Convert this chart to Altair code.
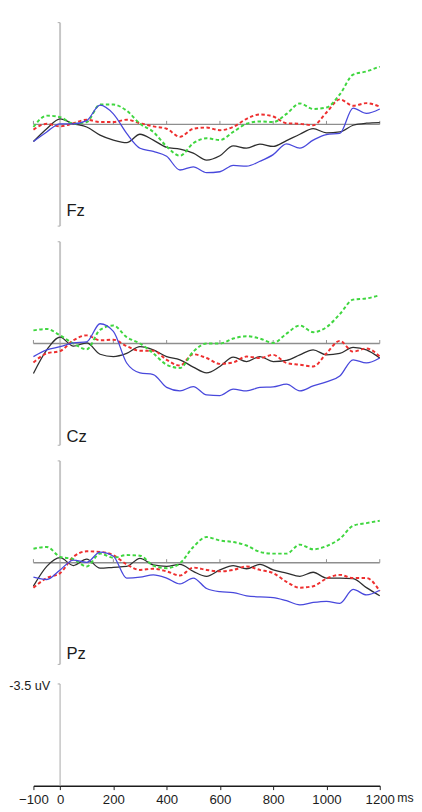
import altair as alt
import pandas as pd

# ---------------- data (uV, negative plotted upward) ----------------
TIMES = [-100, -50, 0, 50, 100, 150, 200, 250, 300, 350, 400, 450, 500, 550,
         600, 650, 700, 750, 800, 850, 900, 950, 1000, 1050, 1100, 1150, 1200]

FZ_BLACK = [0.59, 0.15, -0.19, -0.02, 0.09, 0.37, 0.54, 0.63, 0.34, 0.54, 0.79, 0.85, 0.99, 1.23,
            1.08, 0.74, 0.82, 0.68, 0.76, 0.56, 0.34, 0.15, 0.29, 0.26, 0.03, -0.04, -0.06]
FZ_BLUE = [0.59, 0.26, -0.02, -0.02, -0.13, -0.66, -0.36, 0.31, 0.82, 0.93, 1.10, 1.57, 1.46, 1.66,
           1.63, 1.41, 1.44, 1.27, 1.04, 0.67, 0.82, 0.54, 0.35, 0.31, -0.56, -0.38, -0.53]
FZ_RED = [0.18, -0.02, 0.07, -0.04, -0.16, -0.08, -0.08, -0.16, -0.04, 0.07, 0.15, 0.43, 0.15, 0.11,
          0.20, 0.09, -0.19, -0.34, -0.27, -0.04, -0.02, 0.03, -0.41, -0.86, -0.64, -0.73, -0.61]
FZ_GREEN = [0.09, -0.30, -0.25, -0.02, -0.08, -0.68, -0.68, -0.47, -0.02, 0.26, 0.76, 1.08, 0.65, 0.48,
            0.54, 0.26, -0.02, -0.10, -0.08, -0.36, -0.72, -0.53, -0.58, -1.03, -1.71, -1.82, -1.99]

CZ_BLACK = [1.03, 0.22, -0.22, 0.09, -0.02, 0.37, 0.45, 0.34, 0.11, 0.22, 0.45, 0.56, 0.81, 1.01,
            0.79, 0.47, 0.62, 0.45, 0.62, 0.58, 0.39, 0.22, 0.39, 0.34, 0.13, 0.22, 0.50]
CZ_BLUE = [0.45, 0.22, 0.11, -0.02, -0.06, -0.68, -0.42, 0.67, 1.01, 1.07, 1.51, 1.63, 1.48, 1.77,
           1.79, 1.57, 1.63, 1.51, 1.49, 1.40, 1.63, 1.46, 1.32, 1.12, 0.56, 0.67, 0.50]
CZ_RED = [0.65, 0.34, 0.26, -0.11, -0.28, -0.11, -0.13, 0.09, 0.25, 0.25, 0.56, 0.76, 0.37, 0.50,
          0.70, 0.65, 0.45, 0.50, 0.39, 0.67, 0.73, 0.79, 0.34, -0.09, 0.28, 0.17, 0.45]
CZ_GREEN = [-0.45, -0.50, -0.28, 0.00, 0.20, -0.47, -0.62, -0.22, 0.00, 0.34, 0.73, 0.84, 0.28, 0.00,
            0.00, -0.17, -0.25, -0.17, -0.02, -0.34, -0.62, -0.39, -0.56, -1.01, -1.51, -1.55, -1.66]

PZ_BLACK = [0.81, 0.13, -0.17, 0.10, -0.12, 0.19, 0.16, 0.13, -0.15, 0.08, 0.13, 0.06, 0.30, 0.47,
            0.25, 0.10, 0.21, 0.06, 0.25, 0.36, 0.47, 0.33, 0.53, 0.53, 0.55, 0.86, 1.14]
PZ_BLUE = [0.50, 0.58, 0.25, -0.09, -0.01, -0.36, -0.22, 0.53, 0.50, 0.42, 0.53, 0.73, 0.53, 0.89,
           1.00, 1.03, 1.14, 1.18, 1.20, 1.31, 1.45, 1.37, 1.33, 1.40, 0.92, 1.11, 0.95]
PZ_RED = [0.86, 0.53, 0.36, -0.20, -0.39, -0.37, -0.26, 0.06, 0.25, 0.21, 0.30, 0.44, 0.17, 0.25,
          0.30, 0.25, 0.13, 0.25, 0.36, 0.66, 0.86, 0.81, 0.55, 0.42, 0.53, 0.53, 0.98]
PZ_GREEN = [-0.48, -0.54, -0.20, -0.12, 0.13, -0.31, -0.17, -0.26, -0.24, 0.10, 0.19, 0.02, -0.54, -0.88,
            -0.76, -0.71, -0.59, -0.37, -0.31, -0.31, -0.62, -0.46, -0.57, -0.82, -1.27, -1.36, -1.44]

ELECTRODES = ["Fz", "Cz", "Pz"]
LABEL_POS = [3.15, 3.40, 3.30]
SERIES = {
    "Fz": [FZ_BLACK, FZ_RED, FZ_GREEN, FZ_BLUE],
    "Cz": [CZ_BLACK, CZ_RED, CZ_GREEN, CZ_BLUE],
    "Pz": [PZ_BLACK, PZ_RED, PZ_GREEN, PZ_BLUE],
}
COLORS = ["#2e2e2e", "#ee2f2f", "#3fd63f", "#4848dc"]
DASHED = [False, True, True, False]
WIDTHS = [1.3, 2.0, 2.0, 1.3]

BASE_TICKS = [-100, 200, 400, 600, 800, 1000, 1200]
AXIS_TICKS = [-100, 0, 200, 400, 600, 800, 1000, 1200]
RANGE_UV = 3.5
SCALE_LABEL = "-3.5 uV"
UNIT_LABEL = "ms"

FONT = "Liberation Sans"
W = 354
H = 208

X_SCALE = alt.Scale(domain=[-100, 1200], nice=False, zero=False)


def eeg_panel(name, series, label_v):
    ys = alt.Scale(domain=[-RANGE_UV, RANGE_UV], reverse=True, nice=False, zero=False)
    X = alt.X("t:Q", scale=X_SCALE, axis=None)
    Y = alt.Y("v:Q", scale=ys, axis=None)

    vline = alt.Chart(pd.DataFrame({"t": [0], "v": [-RANGE_UV], "v2": [RANGE_UV]})).mark_rule(
        color="#c6c6c6", strokeWidth=2).encode(x=X, y=Y, y2="v2:Q")
    endticks = alt.Chart(pd.DataFrame({"t": [-9, -9], "t2": [0, 0], "v": [-RANGE_UV, RANGE_UV]})).mark_rule(
        color="#b0b0b0", strokeWidth=1).encode(x=X, x2="t2:Q", y=Y)
    base = alt.Chart(pd.DataFrame({"t": [-100], "t2": [1200], "v": [0.0]})).mark_rule(
        color="#8e8e8e", strokeWidth=1.5).encode(x=X, x2="t2:Q", y=Y)
    n = len(BASE_TICKS)
    ticks = alt.Chart(pd.DataFrame({"t": BASE_TICKS, "v": [0.0] * n, "v2": [-0.12] * n})).mark_rule(
        color="#8e8e8e", strokeWidth=1).encode(x=X, y=Y, y2="v2:Q")

    lines = []
    for vals, col, dash, sw in zip(series, COLORS, DASHED, WIDTHS):
        kw = dict(color=col, strokeWidth=sw, interpolate="monotone")
        if dash:
            kw["strokeDash"] = [3.5, 2.5]
        lines.append(alt.Chart(pd.DataFrame({"t": TIMES, "v": vals})).mark_line(**kw).encode(x=X, y=Y))

    label = alt.Chart(pd.DataFrame({"t": [0], "v": [label_v], "lab": [name]})).mark_text(
        align="left", baseline="alphabetic", dx=6.5, fontSize=17, font=FONT, color="#1c1c1c"
    ).encode(x=X, y=Y, text="lab:N")

    return alt.layer(vline, endticks, base, ticks, *lines, label).properties(width=W, height=H)


panels = [eeg_panel(e, SERIES[e], lp) for e, lp in zip(ELECTRODES, LABEL_POS)]

# ---------------- scale / time-axis panel ----------------
SH = 108
ys2 = alt.Scale(domain=[-RANGE_UV * SH / 104, 0], reverse=True, nice=False, zero=False)
X2 = alt.X("t:Q", scale=X_SCALE,
           axis=alt.Axis(values=AXIS_TICKS, format="d", labelFlush=False, grid=False, title=None,
                         domainColor="#1c1c1c", domainWidth=1.6, tickColor="#1c1c1c", tickWidth=1,
                         tickSize=4, labelFontSize=13.5, labelFont=FONT, labelColor="#1c1c1c",
                         labelPadding=3))
Y2 = alt.Y("v:Q", scale=ys2, axis=None)

s_vline = alt.Chart(pd.DataFrame({"t": [0], "v": [-RANGE_UV], "v2": [0.0]})).mark_rule(
    color="#a8a8a8", strokeWidth=1).encode(x=X2, y=Y2, y2="v2:Q")
s_tick = alt.Chart(pd.DataFrame({"t": [-9], "t2": [0], "v": [-RANGE_UV]})).mark_rule(
    color="#a8a8a8", strokeWidth=1).encode(x=X2, x2="t2:Q", y=Y2)
s_lab = alt.Chart(pd.DataFrame({"t": [0], "v": [-RANGE_UV], "lab": [SCALE_LABEL]})).mark_text(
    align="right", baseline="middle", dx=-10, dy=2, fontSize=13, font=FONT, color="#1c1c1c"
).encode(x=X2, y=Y2, text="lab:N")
s_ms = alt.Chart(pd.DataFrame({"t": [1200], "v": [0.0], "lab": [UNIT_LABEL]})).mark_text(
    align="left", baseline="top", dx=18, dy=7, fontSize=12.5, font=FONT, color="#1c1c1c"
).encode(x=X2, y=Y2, text="lab:N")

scale_panel = alt.layer(s_vline, s_tick, s_lab, s_ms).properties(width=W, height=SH)

chart = alt.vconcat(*panels, scale_panel, spacing=16, bounds="flush").properties(
    padding={"left": 1, "top": 5, "right": 0, "bottom": 0}
).configure_view(strokeWidth=0)

chart.save("out.html", embed_options={"renderer": "svg", "actions": False})
